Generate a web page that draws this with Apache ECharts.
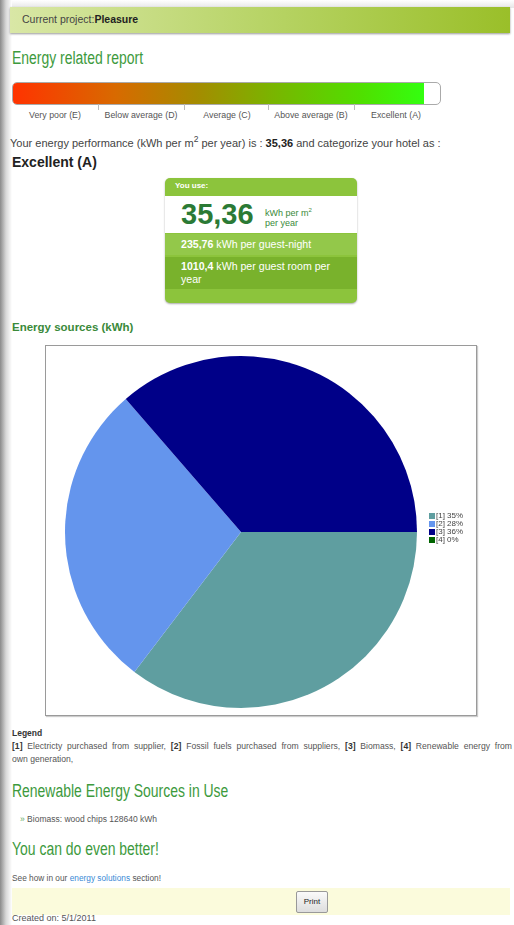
<!DOCTYPE html>
<html><head><meta charset="utf-8">
<script src="https://cdn.jsdelivr.net/npm/echarts@6/dist/echarts.min.js"></script>
<style>
html,body{margin:0;padding:0;background:#fff;width:514px;height:925px;overflow:hidden;font-family:"Liberation Sans",Arial,sans-serif;color:#444;}
.abs{position:absolute;white-space:nowrap;}
.narrow{font-family:"Liberation Sans",Arial,sans-serif;color:#3d9a3d;transform:scaleX(0.775);transform-origin:0 0;}
#shadowL{position:absolute;left:0;top:0;width:12px;height:925px;background:linear-gradient(to right,#8a8a8a,#d8d8d8 50%,#fff);}
#shadowT{position:absolute;left:0;top:0;width:514px;height:8px;background:linear-gradient(to bottom,#fff,#e6e6e6);}
#header{position:absolute;left:10px;top:7px;width:500px;height:26px;background:linear-gradient(to right,#d9e7a6,#b8d467 50%,#9abf29);box-shadow:0 1px 2px #999;}
#gbar{position:absolute;left:12px;top:82px;width:427px;height:21px;border:1px solid #aaa;border-radius:5px;background:#fff;overflow:hidden;}
#gfill{position:absolute;left:0;top:0;width:411px;height:21px;background:linear-gradient(to right,#ff3300,#d86a00 25%,#a48c00 45%,#7cb200 62%,#4fe000 85%,#33ff10);}
.tick{position:absolute;top:104px;width:1px;height:6px;background:#bbb;}
.lbl{position:absolute;top:110px;font-size:8.8px;color:#555;transform:translateX(-50%);white-space:nowrap;}
#box{position:absolute;left:165px;top:178px;width:192px;height:125px;border-radius:5px;background:#8cc43c;overflow:hidden;box-shadow:0 1px 2px #aaa;}
#chartBox{position:absolute;left:45px;top:345px;width:430px;height:369px;border:1px solid #9a9a9a;box-shadow:1px 1px 1px #ccc;}
#chart{width:430px;height:369px;}
.jl{position:absolute;left:12px;width:500px;font-size:8.6px;color:#555;text-align:justify;text-align-last:justify;white-space:nowrap;}
</style></head>
<body>
<div id="shadowT"></div>
<div id="shadowL"></div>
<div id="header"></div>
<div class="abs" style="left:22px;top:13px;font-size:10.5px;color:#444;">Current project:<b style="color:#222;">Pleasure</b></div>
<div class="abs narrow" style="left:12px;top:48px;font-size:18px;">Energy related report</div>
<div id="gbar"><div id="gfill"></div></div>
<div class="tick" style="left:98px"></div>
<div class="tick" style="left:184px"></div>
<div class="tick" style="left:268px"></div>
<div class="tick" style="left:354px"></div>
<div class="lbl" style="left:55px">Very poor (E)</div>
<div class="lbl" style="left:141px">Below average (D)</div>
<div class="lbl" style="left:227px">Average (C)</div>
<div class="lbl" style="left:311px">Above average (B)</div>
<div class="lbl" style="left:396px">Excellent (A)</div>
<div class="abs" style="left:10px;top:134px;font-size:11px;color:#444;">Your energy performance (kWh per m<sup style="font-size:8.5px">2</sup> per year) is : <b style="color:#222">35,36</b> and categorize your hotel as :</div>
<div class="abs" style="left:12px;top:154px;font-size:14px;font-weight:bold;color:#222;">Excellent (A)</div>
<div id="box">
  <div class="abs" style="left:10px;top:3px;font-size:8px;font-weight:bold;color:#fff;">You use:</div>
  <div style="position:absolute;left:0;top:18px;width:192px;height:37px;background:#fff;"></div>
  <div class="abs" style="left:16px;top:20px;font-size:29px;font-weight:bold;color:#2b7a35;">35,36</div>
  <div class="abs" style="left:100px;top:27px;font-size:9px;color:#3a8a3a;line-height:10px;">kWh per m<sup style="font-size:6px">2</sup><br>per year</div>
  <div style="position:absolute;left:0;top:56px;width:192px;height:21px;background:#93c84a;"></div>
  <div class="abs" style="left:16px;top:60px;font-size:10.6px;color:#fff;"><b>235,76</b> kWh per guest-night</div>
  <div style="position:absolute;left:0;top:79px;width:192px;height:32px;background:#79b22c;"></div>
  <div class="abs" style="left:16px;top:82px;font-size:10.6px;color:#fff;line-height:13px;"><b>1010,4</b> kWh per guest room per<br>year</div>
</div>
<div class="abs" style="left:12px;top:321px;font-size:11.5px;font-weight:bold;color:#3a8a3a;">Energy sources (kWh)</div>
<div id="chartBox"><div id="chart"></div></div>
<div class="abs" style="left:12px;top:728px;font-size:8.5px;font-weight:bold;color:#333;">Legend</div>
<div class="jl" style="top:741px;"><b style="color:#333">[1]</b> Electricty purchased from supplier, <b style="color:#333">[2]</b> Fossil fuels purchased from suppliers, <b style="color:#333">[3]</b> Biomass, <b style="color:#333">[4]</b> Renewable energy from</div>
<div class="abs" style="left:12px;top:754px;font-size:8.6px;color:#555;">own generation,</div>
<div class="abs narrow" style="left:12px;top:781px;font-size:18px;">Renewable Energy Sources in Use</div>
<div class="abs" style="left:20px;top:814px;font-size:8.5px;color:#555;"><span style="color:#6a6">»</span> Biomass: wood chips 128640 kWh</div>
<div class="abs narrow" style="left:12px;top:839px;font-size:18px;">You can do even better!</div>
<div class="abs" style="left:12px;top:873px;font-size:8.3px;color:#555;">See how in our <span style="color:#3a8ad6">energy solutions</span> section!</div>
<div style="position:absolute;left:12px;top:888px;width:498px;height:27px;background:#fbfbdc;"></div>
<div style="position:absolute;left:296px;top:891px;width:30px;height:20px;border:1px solid #999;border-radius:2px;background:linear-gradient(#fafafa,#ddd);font-size:8px;color:#222;text-align:center;line-height:20px;">Print</div>
<div class="abs" style="left:12px;top:913px;font-size:9px;color:#555;">Created on: 5/1/2011</div>
<script>
var categories = ['[1]', '[2]', '[3]', '[4]'];
var shares = [35, 28, 36, 0];
var colors = ['#5f9ea0', '#6495ed', '#000088', '#006400'];
var chart = echarts.init(document.getElementById('chart'));
chart.setOption({
  animation: false,
  legend: {
    orient: 'vertical', left: 378, top: 161,
    itemWidth: 6, itemHeight: 6, itemGap: 0,
    icon: 'rect',
    textStyle: {fontSize: 8, lineHeight: 7, color: '#444', fontFamily: 'Liberation Sans', padding: [0, 0, 0, -4]},
    formatter: function (n) { return n + ' ' + shares[categories.indexOf(n)] + '%'; },
    data: categories
  },
  series: [{
    type: 'pie',
    center: [195, 186],
    radius: 176,
    startAngle: 0,
    clockwise: true,
    minShowLabelAngle: 0,
    stillShowZeroSum: true,
    label: {show: false},
    labelLine: {show: false},
    itemStyle: {borderWidth: 0},
    emphasis: {disabled: true},
    data: categories.map(function (c, i) { return {name: c, value: shares[i], itemStyle: {color: colors[i]}}; })
  }]
});
</script>
</body></html>
